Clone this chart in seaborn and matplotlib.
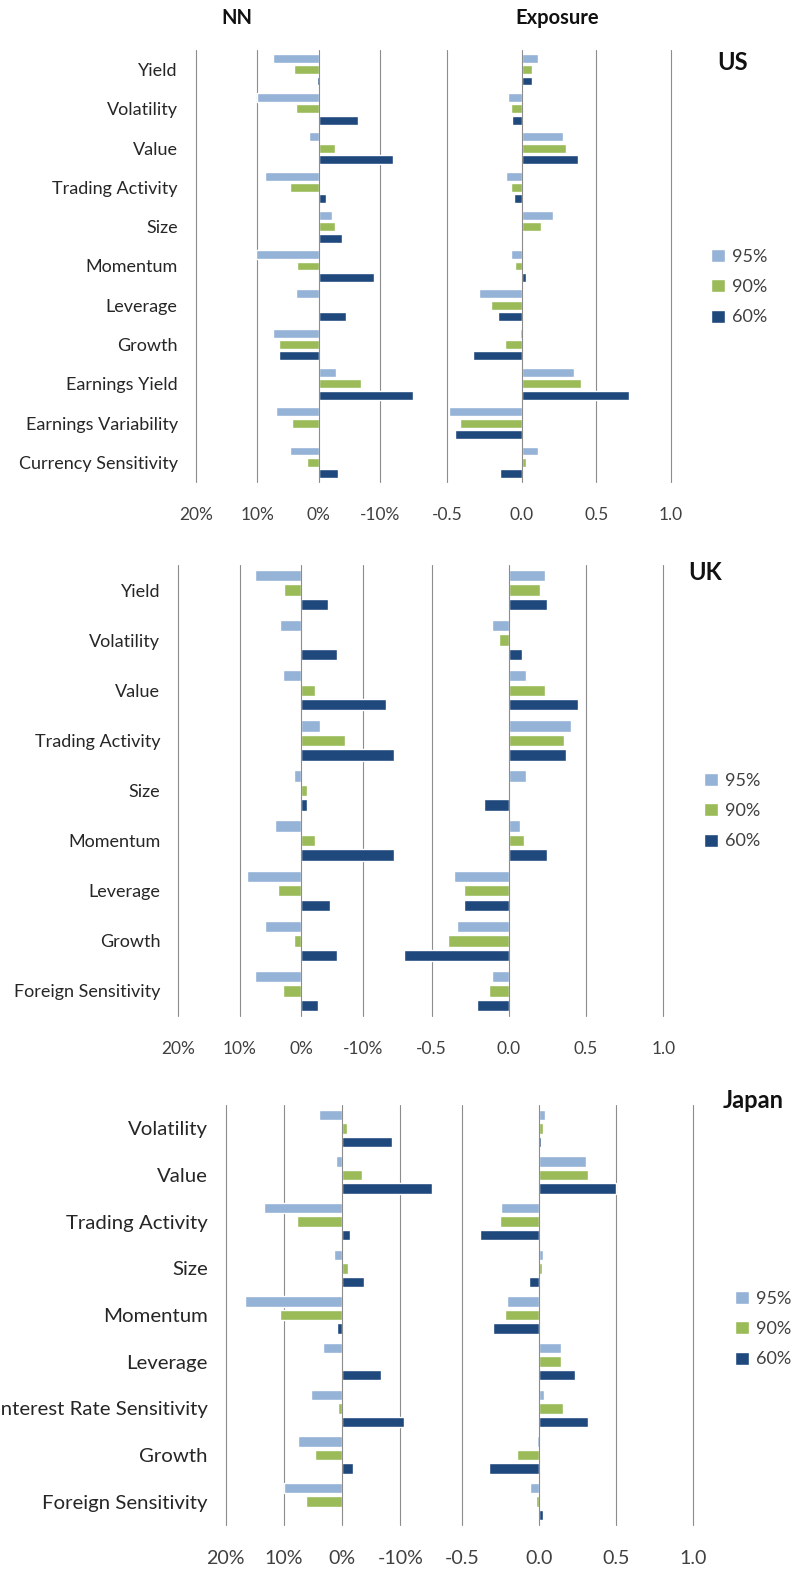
# plot.py
# NN vs Exposure bar charts for US, UK and Japan (95% / 90% / 60% levels)

import pandas as pd
import numpy as np
import matplotlib
matplotlib.use('Agg')
import matplotlib.pyplot as plt
import seaborn as sns

sns.set_theme(style='white')
plt.rcParams['font.family'] = ['Lato', 'DejaVu Sans']

levels = ['95%', '90%', '60%']
colors = ['#95B3D7', '#9BBB59', '#1F497D']

# ---------- US ----------
us_cats = ['Yield', 'Volatility', 'Value', 'Trading Activity', 'Size', 'Momentum',
           'Leverage', 'Growth', 'Earnings Yield', 'Earnings Variability',
           'Currency Sensitivity']
us_nn_95 = [7.5, 10.0, 1.6, 8.8, -2.1, 10.2, 3.7, 7.4, -2.8, 7.0, 4.7]
us_nn_90 = [4.1, 3.7, -2.6, 4.7, -2.6, 3.6, 0.1, 6.4, -6.8, 4.4, 1.9]
us_nn_60 = [0.3, -6.3, -12.1, -1.1, -3.7, -8.9, -4.4, 6.4, -15.3, 0.0, -3.2]
us_exp_95 = [0.11, -0.094, 0.277, -0.107, 0.21, -0.074, -0.286, -0.013, 0.35, -0.487, 0.11]
us_exp_90 = [0.07, -0.074, 0.297, -0.074, 0.13, -0.047, -0.205, -0.114, 0.397, -0.413, 0.031]
us_exp_60 = [0.07, -0.067, 0.377, -0.051, -0.007, 0.031, -0.161, -0.328, 0.723, -0.446, -0.147]

# ---------- UK ----------
uk_cats = ['Yield', 'Volatility', 'Value', 'Trading Activity', 'Size', 'Momentum',
           'Leverage', 'Growth', 'Foreign Sensitivity']
uk_nn_95 = [7.5, 3.5, 2.9, -3.0, 1.2, 4.3, 8.9, 5.9, 7.5]
uk_nn_90 = [2.8, -0.1, -2.3, -7.1, -0.9, -2.2, 3.7, 1.1, 2.9]
uk_nn_60 = [-4.4, -5.8, -13.8, -15.1, -0.9, -15.1, -4.6, -5.8, -2.8]
uk_exp_95 = [0.232, -0.108, 0.110, 0.405, 0.110, 0.069, -0.355, -0.335, -0.108]
uk_exp_90 = [0.203, -0.061, 0.232, 0.357, 0.006, 0.097, -0.288, -0.396, -0.13]
uk_exp_60 = [0.245, 0.084, 0.45, 0.37, -0.162, 0.245, -0.294, -0.68, -0.208]

# ---------- Japan ----------
jp_cats = ['Volatility', 'Value', 'Trading Activity', 'Size', 'Momentum', 'Leverage',
           'Interest Rate Sensitivity', 'Growth', 'Foreign Sensitivity']
jp_nn_95 = [3.9, 1.0, 13.5, 1.4, 16.6, 3.3, 5.4, 7.6, 10.0]
jp_nn_90 = [-0.8, -3.4, 7.8, -1.0, 10.6, 0.0, 0.7, 4.7, 6.2]
jp_nn_60 = [-8.5, -15.5, -1.3, -3.7, 0.9, -6.6, -10.6, -1.8, -0.2]
jp_exp_95 = [0.037, 0.302, -0.248, 0.022, -0.209, 0.144, 0.03, -0.015, -0.06]
jp_exp_90 = [0.022, 0.317, -0.252, 0.015, -0.22, 0.144, 0.151, -0.142, -0.022]
jp_exp_60 = [0.009, 0.5, -0.388, -0.069, -0.302, 0.231, 0.317, -0.328, 0.022]

W, H = 794, 1588
fig = plt.figure(figsize=(W / 100, H / 100), dpi=100)


def to_long(cats, a, b, c):
    rows = []
    for lev, vals in zip(levels, [a, b, c]):
        for cat, v in zip(cats, vals):
            rows.append({'factor': cat, 'level': lev, 'value': v})
    return pd.DataFrame(rows)


def px_axes(x0, x1, y0, y1):
    # pixel box -> figure axes
    return fig.add_axes([x0 / W, 1 - y1 / H, (x1 - x0) / W, (y1 - y0) / H])


def style_axes(ax, ticks, labels, show_y, fs):
    ax.set_xticks(ticks)
    ax.set_xticklabels(labels, fontsize=12.5 * fs, color='#404040')
    ax.grid(False)
    for t in ticks:
        # zero line sits on top of the bars like an Excel axis line
        z = 3 if t == 0 else 0
        ax.axvline(t, color='#8c8c8c', linewidth=0.8, zorder=z, clip_on=False)
    for s in ax.spines.values():
        s.set_visible(False)
    ax.tick_params(axis='x', length=0, pad=18)
    ax.tick_params(axis='y', length=0, pad=13)
    ax.set_xlabel('')
    ax.set_ylabel('')
    if show_y:
        for t in ax.get_yticklabels():
            t.set_fontsize(13.0 * fs)
            t.set_color('#262626')
    else:
        ax.set_yticklabels([])
    for p in ax.patches:
        p.set_clip_on(False)
        p.set_zorder(2)
    if ax.get_legend() is not None:
        ax.get_legend().remove()


def draw_panel(cats, nn, exp, nn_box, exp_box, name, name_xy, leg_xy, fs=1.0):
    ax1 = px_axes(*nn_box)
    sns.barplot(data=to_long(cats, *nn), y='factor', x='value', hue='level',
                hue_order=levels, palette=colors, orient='h', width=0.87, gap=0.22,
                saturation=1, ax=ax1)
    ax1.set_xlim(20, -10)
    ax1.set_ylim(len(cats) - 0.5, -0.5)
    style_axes(ax1, [20, 10, 0, -10], ['20%', '10%', '0%', '-10%'], True, fs)

    ax2 = px_axes(*exp_box)
    sns.barplot(data=to_long(cats, *exp), y='factor', x='value', hue='level',
                hue_order=levels, palette=colors, orient='h', width=0.87, gap=0.22,
                saturation=1, ax=ax2)
    ax2.set_xlim(-0.5, 1.0)
    ax2.set_ylim(len(cats) - 0.5, -0.5)
    handles, labs = ax2.get_legend_handles_labels()
    style_axes(ax2, [-0.5, 0.0, 0.5, 1.0], ['-0.5', '0.0', '0.5', '1.0'], False, fs)

    fig.text(name_xy[0] / W, 1 - name_xy[1] / H, name, fontsize=17, fontweight='bold',
             ha='center', va='center', color='#111111')
    fig.legend(handles, labs, loc='center left',
               bbox_to_anchor=(leg_xy[0] / W, 1 - leg_xy[1] / H),
               frameon=False, fontsize=13, handlelength=0.75, handleheight=0.75,
               handletextpad=0.4, labelspacing=0.8, borderpad=0, borderaxespad=0,
               labelcolor='#404040')


draw_panel(us_cats, [us_nn_95, us_nn_90, us_nn_60], [us_exp_95, us_exp_90, us_exp_60],
           (195.7, 380.3, 50, 482), (447, 670.7, 50, 482), 'US', (733, 63), (711, 287))
draw_panel(uk_cats, [uk_nn_95, uk_nn_90, uk_nn_60], [uk_exp_95, uk_exp_90, uk_exp_60],
           (178.3, 362.7, 565, 1016), (431.7, 663.3, 565, 1016), 'UK', (705, 573), (704, 811))
draw_panel(jp_cats, [jp_nn_95, jp_nn_90, jp_nn_60], [jp_exp_95, jp_exp_90, jp_exp_60],
           (225.7, 400.3, 1105, 1525), (462.3, 693.3, 1105, 1525), 'Japan', (753, 1100), (735, 1329),
           fs=1.13)

fig.text(237 / W, 1 - 18 / H, 'NN', fontsize=14.5, fontweight='bold', ha='center', va='center', color='#111111')
fig.text(557 / W, 1 - 18 / H, 'Exposure', fontsize=14.5, fontweight='bold', ha='center', va='center', color='#111111')

fig.savefig('out.png', dpi=100, facecolor='white')
